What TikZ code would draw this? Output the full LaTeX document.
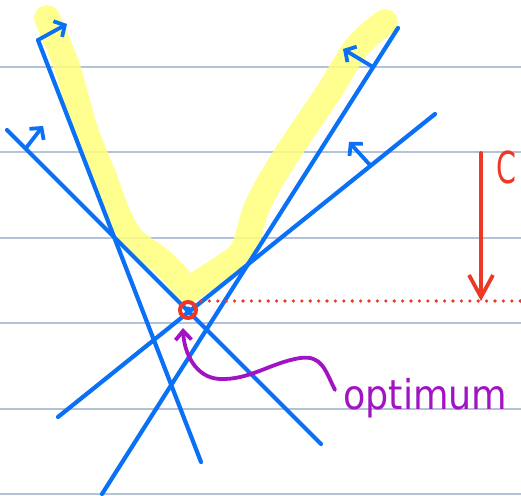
\documentclass[tikz,border=0pt]{standalone}
\usepackage{fontspec}
\setmainfont{Noto Sans}
\newfontfamily\handfont{DejaVu Sans}
\usetikzlibrary{arrows.meta}
\definecolor{rule}{RGB}{178,194,216}
\definecolor{pen}{RGB}{10,112,245}
\definecolor{hl}{RGB}{255,255,125}
\definecolor{redpen}{RGB}{236,56,36}
\definecolor{purp}{RGB}{160,20,195}
\begin{document}
\begin{tikzpicture}[x=1pt,y=-1pt,
  bluel/.style={pen, line width=4.2pt, line cap=round},
  tick/.style={pen, line width=3.8pt, line cap=round, line join=round,
    -{Straight Barb[length=8pt,width=18pt]}},
  ruleline/.style={rule, line width=1.5pt}]
\useasboundingbox (0,0) rectangle (521,495);
% ruled lines
\foreach \yy in {67,152,238,323,409,494} \draw[ruleline] (0,\yy) -- (521,\yy);
% highlight
\draw[hl, opacity=0.85, line width=26pt, line cap=round, line join=round]
  plot[smooth, tension=0.6] coordinates {(47,18) (67,67) (85,130) (103,175) (118,215) (133,240) (160,260) (178,278) (188,289) (205,279) (225,266) (243,250) (257,207) (277,170) (303,130) (330,90) (357,47) (385,22)};
% constraint lines
\coordinate (a1) at (38,40);   \coordinate (a2) at (201,462);
\coordinate (b1) at (7,130);   \coordinate (b2) at (321,444);
\coordinate (c1) at (398,28);  \coordinate (c2) at (102,494);
\coordinate (d1) at (435,114); \coordinate (d2) at (58,417);
\draw[bluel] (a1) -- (a2);
\draw[bluel] (b1) -- (b2);
\draw[bluel] (c1) -- (c2);
\draw[bluel] (d1) -- (d2);
% normal ticks
\coordinate (t1) at (67,24);
\coordinate (s2) at (26,148);  \coordinate (t2) at (43,126);
\coordinate (s3) at (373,67);  \coordinate (t3) at (343,49);
\coordinate (s4) at (370,165); \coordinate (t4) at (349,142);
\draw[tick] (a1) -- (t1);
\draw[tick] (s2) -- (t2);
\draw[tick] (s3) -- (t3);
\draw[tick] (s4) -- (t4);
% optimum
\fill[pen] (188,310) circle (3.5pt);
\node[circle, draw=redpen, line width=4pt, minimum size=16pt, inner sep=0pt] (opt) at (188,310) {};
% dotted level line
\coordinate (dl) at (201,301); \coordinate (dr) at (521,301);
\draw[redpen, line width=3.6pt, line cap=round, dash pattern=on 0pt off 8.4pt] (dl) -- (dr);
% c arrow
\coordinate (ctop) at (481,153); \coordinate (cbot) at (481,301);
\draw[redpen, line width=3.8pt, line cap=round, line join=round, -{Straight Barb[length=22pt,width=24pt]}] (ctop) -- (cbot);
\node[redpen, anchor=west, inner sep=0pt, font=\handfont\fontsize{44}{44}\selectfont] (clab) at (496,167) {\scalebox{0.65}[1]{C}};
% optimum label
\node[purp, anchor=base west, inner sep=0pt, font=\handfont\fontsize{41}{41}\selectfont] (optlab) at (343,409) {\scalebox{0.89}[1]{optimum}};
\coordinate (pstart) at (335,390); \coordinate (ptip) at (183,328);
\draw[purp, line width=3.8pt, line cap=round, line join=round, -{Straight Barb[length=9pt,width=16pt]}]
  (pstart) .. controls (325,370) and (322,355) .. (300,358)
  .. controls (270,363) and (250,380) .. (220,379)
  .. controls (195,378) and (184,352) .. (ptip);
\end{tikzpicture}
\end{document}
